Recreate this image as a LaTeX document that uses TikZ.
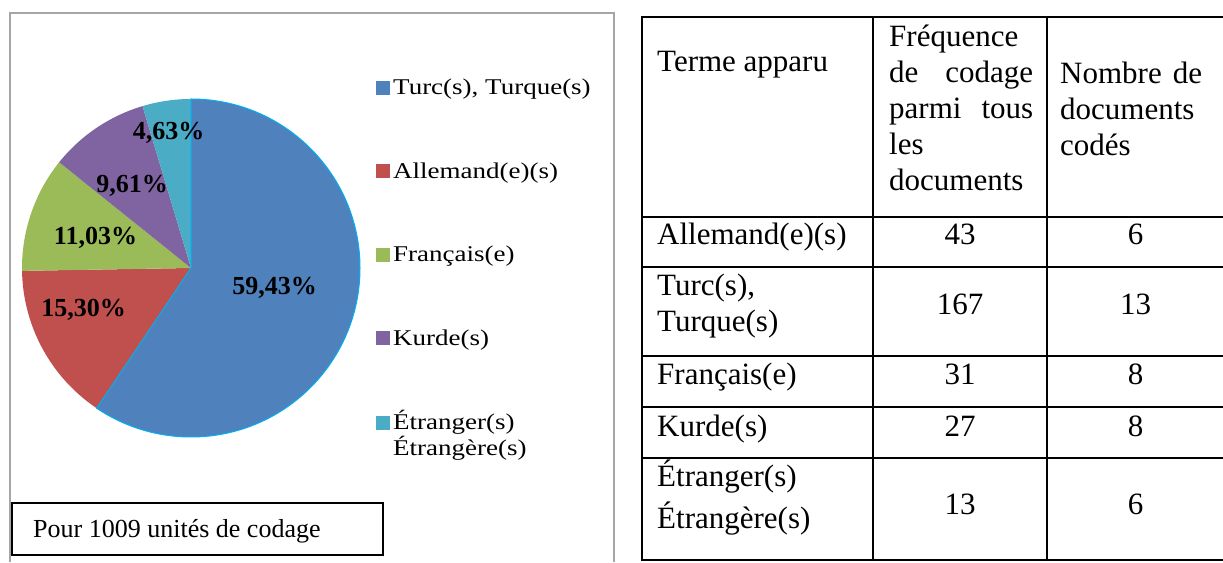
\documentclass[tikz,border=0pt]{standalone}
\usepackage{fontspec}
\setmainfont{Liberation Serif}
\usepackage{graphicx}

\definecolor{turcblue}{HTML}{4F81BD}
\definecolor{allemred}{HTML}{C0504D}
\definecolor{francgreen}{HTML}{9BBB59}
\definecolor{kurdpurple}{HTML}{8064A2}
\definecolor{etraqua}{HTML}{4BACC6}
\definecolor{edgecyan}{HTML}{00B0F0}
\definecolor{framegray}{HTML}{A6A6A6}

\newcommand{\legtxt}[1]{\scalebox{1.2}[1]{#1}}

\tikzset{
    pct/.style={anchor=base,inner sep=0pt,font=\fontsize{26}{30}\selectfont\bfseries},
    legend/.style={anchor=base west,inner sep=0pt,font=\fontsize{22.5}{26}\selectfont},
    cell/.style={anchor=base west,inner sep=0pt,font=\fontsize{31}{36}\selectfont},
    num/.style={anchor=base,inner sep=0pt,font=\fontsize{31}{36}\selectfont},
    grid/.style={line width=2pt,line cap=rect},
}

\begin{document}
\begin{tikzpicture}[x=1pt,y=1pt]
    \useasboundingbox (0,0) rectangle (1223,562);

    % chart
    \begin{scope}
        \draw [framegray,line width=1.5pt] (10,0) -- (10,549) -- (614,549) -- (614,0);

        \coordinate (pie) at (191,294);
        \foreach \a/\b/\col in {90/-123.948/turcblue,-123.948/-179.028/allemred,-179.028/-218.736/francgreen,-218.736/-253.332/kurdpurple,-253.332/-270/etraqua}{%
            \fill [\col] (pie) -- +(\a:169) arc [start angle=\a,end angle=\b,radius=169] -- cycle;
        }
        \draw [edgecyan,line width=1pt] (pie) -- +(90:169) arc [start angle=90,end angle=-123.948,radius=169] -- cycle;

        \node [pct] (pctTurc)    at (274.5,267) {59,43\%};
        \node [pct] (pctAllem)   at (83.5,245)  {15,30\%};
        \node [pct] (pctFranc)   at (95.5,317)  {11,03\%};
        \node [pct] (pctKurde)   at (132,369)   {9,61\%};
        \node [pct] (pctEtrang)  at (168.5,422) {4,63\%};

        \foreach \yb/\col/\nm/\txt in {467/turcblue/legTurc/{Turc(s), Turque(s)},383.5/allemred/legAllem/{Allemand(e)(s)},300/francgreen/legFranc/{Français(e)},216.5/kurdpurple/legKurde/{Kurde(s)},132/etraqua/legEtrang/{Étranger(s)}}{%
            \fill [\col] (376,\yb) rectangle ++(14,14);
            \node [legend] (\nm) at (393,\yb) {\legtxt{\txt}};
        }
        \node [legend] (legEtrangere) at (393,106) {\legtxt{Étrangère(s)}};

        \draw [line width=1.5pt] (12,7) rectangle (383,59);
        \node [anchor=base west,inner sep=0pt,font=\fontsize{26}{30}\selectfont] (note) at (33,24) {Pour 1009 unités de codage};
    \end{scope}

    % table
    \begin{scope}
        \draw [grid] (642,545) rectangle (1227,2);
        \foreach \xx in {873,1047}{%
            \draw [grid] (\xx,545) -- (\xx,2);
        }
        \foreach \yy in {345,295,206,155,104}{%
            \draw [grid] (642,\yy) -- (1227,\yy);
        }

        \node [cell] (hTerme) at (657,490) {Terme apparu};
        \node [cell] (hFreq) at (889,515) {\parbox[t]{144pt}{Fréquence\\\makebox[144pt][s]{de codage}\\\makebox[144pt][s]{parmi tous}\\les\\documents}};
        \node [cell] (hNombre) at (1060,478) {\parbox[t]{142pt}{\makebox[142pt][s]{Nombre de}\\documents\\codés}};

        \node [cell] (tAllem)     at (657,317) {Allemand(e)(s)};
        \node [cell] (tTurc)      at (657,266) {Turc(s),};
        \node [cell] (tTurque)    at (657,230) {Turque(s)};
        \node [cell] (tFranc)     at (657,177) {Français(e)};
        \node [cell] (tKurde)     at (657,125) {Kurde(s)};
        \node [cell] (tEtranger)  at (657,75)  {Étranger(s)};
        \node [cell] (tEtrangere) at (657,33)  {Étrangère(s)};

        \foreach \yb/\f/\n/\nm in {317/43/6/Allem,247/167/13/Turc,177/31/8/Franc,125/27/8/Kurde,47/13/6/Etrang}{%
            \node [num] (f\nm) at (960,\yb) {\f};
            \node [num] (n\nm) at (1135.5,\yb) {\n};
        }
    \end{scope}
\end{tikzpicture}
\end{document}
